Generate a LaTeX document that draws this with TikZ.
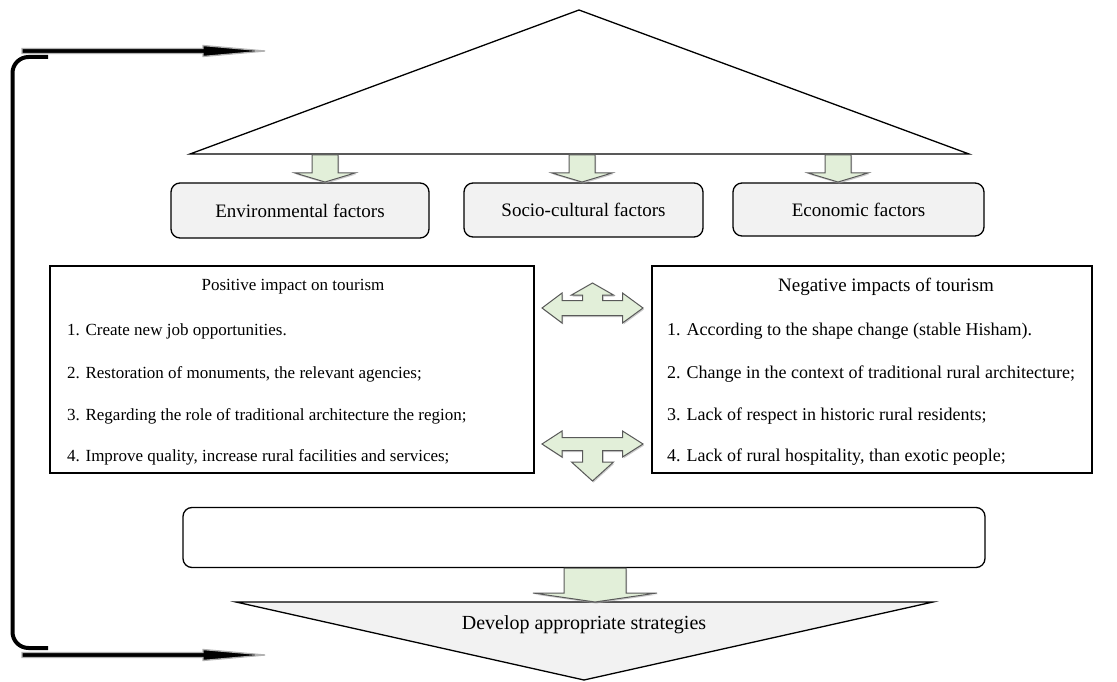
\documentclass[tikz,border=0pt]{standalone}
\usepackage{fontspec}
\setmainfont{Liberation Serif}
\usetikzlibrary{arrows.meta,positioning,shadows}
\definecolor{leaf}{HTML}{E2EFD9}
\definecolor{pale}{HTML}{F2F2F2}
\definecolor{rim}{HTML}{595959}

\begin{document}
\begin{tikzpicture}[
  x=1pt, y=-1pt,
  factor/.style={rectangle, rounded corners=9pt, draw=black, fill=pale, line width=1.3pt, align=center, font=\fontsize{19}{22}\selectfont},
  panel/.style={rectangle, draw=black, line width=1.5pt, inner sep=0pt},
  heading/.style={inner sep=0pt, font=\fontsize{18}{21}\selectfont},
  item/.style={anchor=west, inner sep=0pt, font=\fontsize{18}{21}\selectfont},
  frame/.style={draw=black, line width=1.3pt},
  blockarrow/.style={draw=rim, fill=leaf, line width=1pt, drop shadow={shadow xshift=1pt, shadow yshift=-1.5pt, fill=gray!70, opacity=0.6}},
  loopline/.style={draw=black, line width=4pt, rounded corners=16pt},
  feedback/.style={fill=black, draw=gray!60, line width=1.3pt, line join=miter}
]
\useasboundingbox (0,0) rectangle (1117,682);

% top triangle
\coordinate (tl) at (190,154);
\coordinate (tapex) at (579,10);
\coordinate (tr) at (969,154);
\draw[frame, fill=white] (tl) -- (tapex) -- (tr) -- cycle;

\node[factor, minimum width=258pt, minimum height=55pt] (env) at (300,210.5) {Environmental factors};
\node[factor, minimum width=239pt, minimum height=54pt] (soc) at (583.5,210) {Socio-cultural factors};
\node[factor, minimum width=251pt, minimum height=53pt] (eco) at (858.5,209.5) {Economic factors};

\foreach \x in {325,582,838}
  \draw[blockarrow] (\x-13,155) -- (\x+13,155) -- (\x+13,173) -- (\x+30,173) -- (\x,182) -- (\x-30,173) -- (\x-13,173) -- cycle;

% impact panels
\node[panel, minimum width=484pt, minimum height=207pt] (pos) at (292,369.5) {};
\node[panel, minimum width=440pt, minimum height=207pt] (neg) at (872,369.5) {};

\node[heading, font=\fontsize{17}{20}\selectfont] (postitle) at (293,287) {Positive impact on tourism};
\node[item, font=\fontsize{17}{20}\selectfont] (pos1) at (67,331) {1. Create new job opportunities.};
\node[item, font=\fontsize{17}{20}\selectfont] (pos2) at (67,374) {2. Restoration of monuments, the relevant agencies;};
\node[item, font=\fontsize{17}{20}\selectfont] (pos3) at (67,416) {3. Regarding the role of traditional architecture the region;};
\node[item, font=\fontsize{17}{20}\selectfont] (pos4) at (67,457) {4. Improve quality, increase rural facilities and services;};

\node[heading, font=\fontsize{19}{22}\selectfont] (negtitle) at (886,287) {Negative impacts of tourism};
\node[item] (neg1) at (667,331) {1. According to the shape change (stable Hisham).};
\node[item] (neg2) at (667,374) {2. Change in the context of traditional rural architecture;};
\node[item] (neg3) at (667,416) {3. Lack of respect in historic rural residents;};
\node[item] (neg4) at (667,457) {4. Lack of rural hospitality, than exotic people;};

\draw[blockarrow] (542,308) -- (562,293) -- (562,300.5) -- (582.5,300.5) -- (582.5,295) -- (571.5,295) -- (592.5,283) -- (613.5,295) -- (602.5,295) -- (602.5,300.5) -- (622.5,300.5) -- (622.5,293) -- (643,308) -- (622.5,323) -- (622.5,315.5) -- (562,315.5) -- (562,323) -- cycle;
\draw[blockarrow] (542,444) -- (562,431) -- (562,437.5) -- (622.5,437.5) -- (622.5,431) -- (643,444) -- (622.5,457) -- (622.5,450.5) -- (602.5,450.5) -- (602.5,462) -- (613.5,462) -- (592.5,481) -- (571.5,462) -- (582.5,462) -- (582.5,450.5) -- (562,450.5) -- (562,457) -- cycle;

% bottom part
\node[factor, fill=white, minimum width=802pt, minimum height=60pt] (summary) at (584,537.5) {};

\coordinate (bl) at (236,602);
\coordinate (bapex) at (584,680);
\coordinate (br) at (933,602);
\draw[frame, fill=pale] (bl) -- (br) -- (bapex) -- cycle;
\node[inner sep=0pt, font=\fontsize{20}{23}\selectfont] (strat) at (584,625) {Develop appropriate strategies};

\draw[blockarrow] (564,568) -- (626,568) -- (626,593) -- (657,593) -- (595,602) -- (533,593) -- (564,593) -- cycle;

% feedback loop
\coordinate (looptop) at (48,57);
\coordinate (loopbot) at (48,648);
\draw[loopline] (looptop) -- ++(-35.5,0) -- ++(0,591) -- (loopbot);

\coordinate (fbtop) at (22,51);
\coordinate (fbtopend) at (265,51);
\coordinate (fbbot) at (22,655);
\coordinate (fbbotend) at (265,655);
\filldraw[feedback] (fbtop) ++(0,-2.5) -- ++(181,0) -- ++(0,-3) -- (fbtopend) -- ++(-62,5.5) -- ++(0,-3) -- ++(-181,0) -- cycle;
\filldraw[feedback] (fbbot) ++(0,-2.5) -- ++(181,0) -- ++(0,-3) -- (fbbotend) -- ++(-62,5.5) -- ++(0,-3) -- ++(-181,0) -- cycle;
\end{tikzpicture}
\end{document}
